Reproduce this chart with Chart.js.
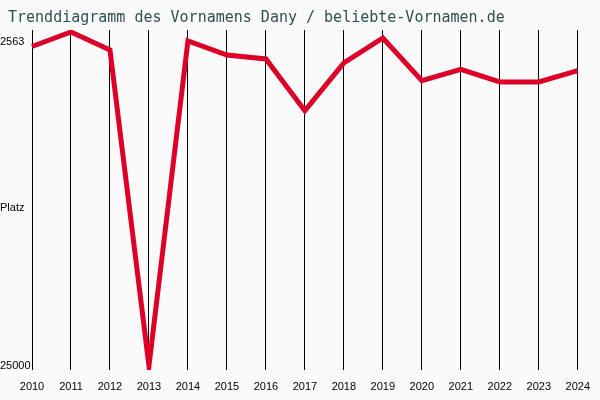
<!DOCTYPE html>
<html>
<head>
<meta charset="utf-8">
<script src="https://cdn.jsdelivr.net/npm/chart.js@4/dist/chart.umd.min.js"></script>
<style>
  html, body { margin: 0; padding: 0; background: #fafafa; }
  #trend { display: block; }
</style>
</head>
<body>
<canvas id="trend" width="600" height="400"></canvas>
<script>
// Chart data
const years = ['2010', '2011', '2012', '2013', '2014', '2015', '2016', '2017',
               '2018', '2019', '2020', '2021', '2022', '2023', '2024'];
const ranks = [2875, 1871, 3117, 25000, 2494, 3463, 3740, 7320,
               4017, 2286, 5243, 4454, 5333, 5333, 4550];
const yTickValues = [2563, 14058, 25000];
const yTickLabels = ['2563', 'Platz', '25000'];
const titleText = 'Trenddiagramm des Vornamens Dany / beliebte-Vornamen.de';

(function() {
    'use strict';

    // Title drawn at the top left, monospace like the original
    const titlePlugin = {
        id: 'leftTitle',
        afterDraw(chart) {
            const ctx = chart.ctx;
            ctx.save();
            ctx.font = '15px "DejaVu Sans Mono", "Liberation Mono", monospace';
            ctx.fillStyle = '#2f4f4f';
            ctx.textAlign = 'left';
            ctx.textBaseline = 'middle';
            ctx.fillText(titleText, 8, 18);
            ctx.restore();
        }
    };

    const bg = {
        id: 'bg',
        beforeDraw(chart) {
            const ctx = chart.ctx;
            ctx.save();
            ctx.fillStyle = '#fafafa';
            ctx.fillRect(0, 0, chart.width, chart.height);
            ctx.restore();
        }
    };

    new Chart(document.getElementById('trend'), {
        type: 'line',
        data: {
            labels: years,
            datasets: [{
                data: ranks,
                borderColor: '#dc0029',
                borderWidth: 5,
                tension: 0,
                pointRadius: 0,
                fill: false
            }]
        },
        options: {
            responsive: false,
            animation: false,
            layout: { padding: { top: 30, right: 22, bottom: 0, left: 0 } },
            plugins: {
                legend: { display: false },
                tooltip: { enabled: false }
            },
            scales: {
                x: {
                    offset: false,
                    grid: { color: '#000', lineWidth: 1, drawTicks: false },
                    border: { display: false },
                    ticks: {
                        autoSkip: false,
                        maxRotation: 0,
                        padding: 10,
                        color: '#000',
                        font: { family: '"Liberation Sans", Arial, sans-serif', size: 11 }
                    },
                    afterFit: function(scale) { scale.height = 30; }
                },
                y: {
                    reverse: true,
                    min: 1732,
                    max: 25277,
                    grid: { display: false, drawTicks: false },
                    border: { display: false },
                    afterBuildTicks: function(scale) {
                        scale.ticks = yTickValues.map(v => ({ value: v }));
                    },
                    ticks: {
                        crossAlign: 'far',
                        padding: 0,
                        color: '#000',
                        font: { family: '"Liberation Sans", Arial, sans-serif', size: 11 },
                        callback: function(value) {
                            const i = yTickValues.indexOf(value);
                            return i >= 0 ? yTickLabels[i] : '';
                        }
                    },
                    afterFit: function(scale) { scale.width = 32; }
                }
            }
        },
        plugins: [bg, titlePlugin]
    });
})();
</script>
</body>
</html>
